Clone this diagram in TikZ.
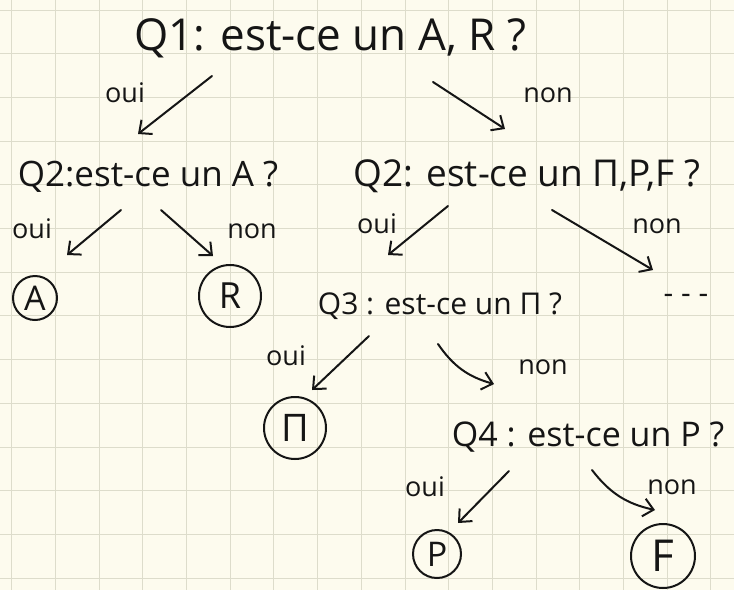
\documentclass[tikz,border=0pt]{standalone}
\usepackage{fontspec}
\setmainfont{Open Sans}
\usetikzlibrary{arrows.meta}
\definecolor{paper}{HTML}{FDFBEE}
\definecolor{gridc}{HTML}{DDDCCB}
\definecolor{ink}{HTML}{151515}
\tikzset{
  qtext/.style={text=ink, inner sep=0pt, anchor=base},
  lab/.style={text=ink, inner sep=0pt, anchor=base, font=\fontsize{27}{29}\selectfont},
  arr/.style={draw=ink, line width=2pt, line cap=round, -{Straight Barb[length=10pt,width=18pt,line width=2pt]}},
  leaf/.style={draw=ink, line width=2pt, circle, text=ink, inner sep=0pt},
}
\begin{document}
\begin{tikzpicture}[x=1pt,y=-1pt]
\fill[paper] (0,0) rectangle (734,590);
\useasboundingbox (0,0) rectangle (734,590);
\foreach \i in {0,...,16} \draw[gridc, line width=1pt] ({11.7+\i*43.7},0) -- ({11.7+\i*43.7},590);
\foreach \j in {0,...,13} \draw[gridc, line width=1pt] (0,{10+\j*43.7}) -- (734,{10+\j*43.7});

% questions
\node[qtext, font=\fontsize{44}{46}\selectfont] (q1) at (330,50) {Q1: est-ce un A, R ?};
\node[qtext, font=\fontsize{35}{37}\selectfont] (q2l) at (148,186) {Q2:est-ce un A ?};
\node[qtext, font=\fontsize{37}{39}\selectfont] (q2r) at (527,186) {Q2: est-ce un Π,P,F ?};
\node[qtext, font=\fontsize{30}{32}\selectfont] (q3) at (440,314) {Q3 : est-ce un Π ?};
\node[qtext, font=\fontsize{34}{36}\selectfont] (q4) at (588,446) {Q4 : est-ce un P ?};
\node[qtext, font=\fontsize{30}{32}\selectfont] (dots) at (686,303) {- - -};

% leaves
\node[leaf, minimum size=44pt, font=\fontsize{34}{36}\selectfont] (lA) at (35,298) {A};
\node[leaf, minimum size=62pt, font=\fontsize{36}{38}\selectfont] (lR) at (230,296) {R};
\node[leaf, minimum size=62pt, font=\fontsize{38}{40}\selectfont] (lM) at (295,428) {Π};
\node[leaf, minimum size=48pt, font=\fontsize{34}{36}\selectfont] (lP) at (437,554) {P};
\node[leaf, minimum size=64pt, font=\fontsize{44}{46}\selectfont] (lF) at (663,556) {F};

% labels
\node[lab] (o1) at (125,102) {oui};
\node[lab] (n1) at (548,102) {non};
\node[lab] (o2) at (32,238) {oui};
\node[lab] (n2) at (252,238) {non};
\node[lab] (o3) at (377,233) {oui};
\node[lab] (n3) at (657,233) {non};
\node[lab] (o4) at (286,365) {oui};
\node[lab] (n4) at (543,374) {non};
\node[lab] (o5) at (425,496) {oui};
\node[lab] (n5) at (672,494) {non};

% arrow ends
\coordinate (a1s) at (212,76);  \coordinate (a1e) at (138,134);
\coordinate (b1s) at (433,82);  \coordinate (b1e) at (505,129);
\coordinate (a2s) at (121,210); \coordinate (a2e) at (67,255);
\coordinate (b2s) at (161,210); \coordinate (b2e) at (213,256);
\coordinate (a3s) at (448,206); \coordinate (a3e) at (388,255);
\coordinate (b3s) at (552,210); \coordinate (b3e) at (653,270);
\coordinate (a4s) at (369,336); \coordinate (a4e) at (312,390);
\coordinate (b4s) at (438,344); \coordinate (b4e) at (494,384);
\coordinate (a5s) at (509,471); \coordinate (a5e) at (458,523);
\coordinate (b5s) at (592,470); \coordinate (b5e) at (655,510);

\draw[arr] (a1s) -- (a1e);
\draw[arr] (b1s) -- (b1e);
\draw[arr] (a2s) -- (a2e);
\draw[arr] (b2s) -- (b2e);
\draw[arr] (a3s) -- (a3e);
\draw[arr] (b3s) -- (b3e);
\draw[arr] (a4s) -- (a4e);
\draw[arr] (b4s) to[bend right=20] (b4e);
\draw[arr] (a5s) -- (a5e);
\draw[arr] (b5s) to[bend right=20] (b5e);
\end{tikzpicture}
\end{document}
